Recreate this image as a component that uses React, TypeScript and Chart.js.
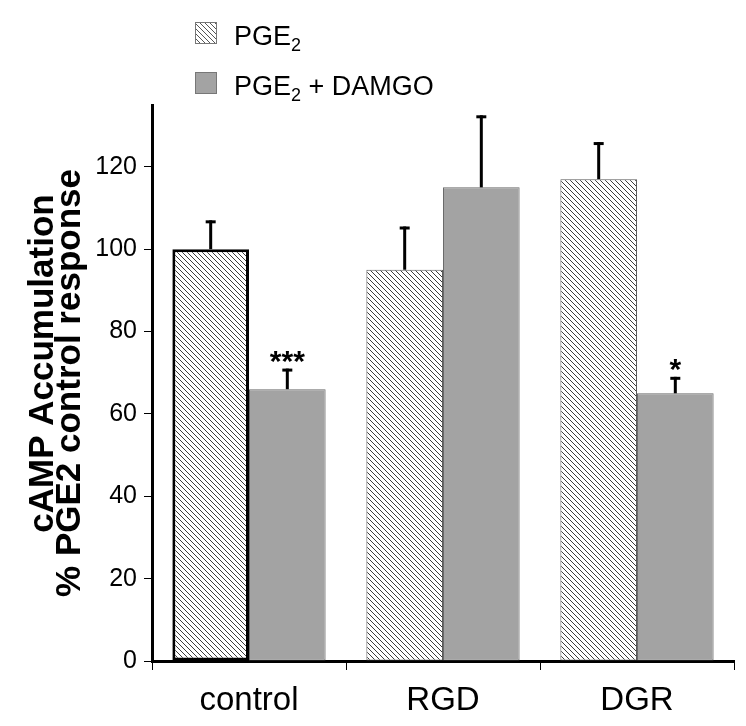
import React, { useEffect, useRef } from "react";
import { Chart, registerables } from "chart.js";

Chart.register(...registerables);

const categories = ["control", "RGD", "DGR"];
const pge2Values = [100, 95, 117];
const pge2Errors = [7, 10.5, 9];
const damgoValues = [66, 115, 65];
const damgoErrors = [5, 17.5, 4];
const significance = ["", "", ""];
const damgoSignificance = ["***", "", "*"];
const yTicks = [0, 20, 40, 60, 80, 100, 120];
const yMax = 135;
const yTitle = ["    cAMP Accumulation", "% PGE2 control response"];

const FONT = "'Liberation Sans', Arial, Helvetica, sans-serif";

function makeHatch(): CanvasPattern | string {
  const s = 5;
  const c = document.createElement("canvas");
  c.width = s;
  c.height = s;
  const ctx = c.getContext("2d");
  if (!ctx) return "#ddd";
  ctx.fillStyle = "#ffffff";
  ctx.fillRect(0, 0, s, s);
  ctx.strokeStyle = "#3c3c3c";
  ctx.lineWidth = 1;
  ctx.beginPath();
  ctx.moveTo(-1, -1);
  ctx.lineTo(s + 1, s + 1);
  ctx.moveTo(-1, s - 1);
  ctx.lineTo(1, s + 1);
  ctx.moveTo(s - 1, -1);
  ctx.lineTo(s + 1, 1);
  ctx.stroke();
  const p = ctx.createPattern(c, "repeat");
  return p || "#ddd";
}

const errorBarPlugin = {
  id: "errorBars",
  afterDatasetsDraw(chart: any) {
    const ctx = chart.ctx as CanvasRenderingContext2D;
    const yScale = chart.scales.y;
    const errs = [pge2Errors, damgoErrors];
    const sigs = [significance, damgoSignificance];
    ctx.save();
    chart.data.datasets.forEach((ds: any, i: number) => {
      const meta = chart.getDatasetMeta(i);
      meta.data.forEach((bar: any, j: number) => {
        const v = ds.data[j] as number;
        const top = yScale.getPixelForValue(v + errs[i][j]);
        const base = yScale.getPixelForValue(v);
        ctx.strokeStyle = "#000";
        ctx.lineWidth = 3;
        ctx.lineCap = "butt";
        ctx.beginPath();
        ctx.moveTo(bar.x, base);
        ctx.lineTo(bar.x, top);
        ctx.stroke();
        ctx.beginPath();
        ctx.moveTo(bar.x - 5, top + 1.5);
        ctx.lineTo(bar.x + 5, top + 1.5);
        ctx.stroke();
        const s = sigs[i][j];
        if (s) {
          ctx.fillStyle = "#000";
          ctx.font = `bold 30px ${FONT}`;
          ctx.textAlign = "center";
          ctx.textBaseline = "alphabetic";
          ctx.fillText(s, bar.x, top + 2);
        }
      });
    });
    ctx.restore();
  },
};

const swatchBase: React.CSSProperties = {
  width: 22,
  height: 22,
  boxSizing: "border-box",
  border: "1px solid #777",
  flex: "0 0 auto",
};

const legendText: React.CSSProperties = {
  marginLeft: 17,
  fontFamily: FONT,
  fontSize: 27,
  lineHeight: "22px",
  color: "#000",
  position: "relative",
  top: 3,
  whiteSpace: "nowrap",
};

const subStyle: React.CSSProperties = { fontSize: 18, lineHeight: 0, verticalAlign: "-6px" };

export default function App() {
  const ref = useRef<HTMLCanvasElement>(null);

  useEffect(() => {
    if (!ref.current) return;
    const hatch = makeHatch();
    const chart = new Chart(ref.current, {
      type: "bar",
      data: {
        labels: categories,
        datasets: [
          {
            label: "PGE2",
            data: pge2Values,
            backgroundColor: hatch as any,
            borderColor: ["#000000", "#5a5a5a", "#5a5a5a"],
            borderWidth: [3, 1, 1],
            borderSkipped: false,
            barPercentage: 1,
            categoryPercentage: 0.79,
          },
          {
            label: "PGE2 + DAMGO",
            data: damgoValues,
            backgroundColor: "#a3a3a3",
            borderColor: "#6a6a6a",
            borderWidth: 1,
            borderSkipped: false,
            barPercentage: 1,
            categoryPercentage: 0.79,
          },
        ],
      },
      options: {
        animation: false,
        responsive: false,
        layout: { padding: { left: 0, right: 12, top: 105, bottom: 0 } },
        plugins: {
          legend: { display: false },
          tooltip: { enabled: false },
        },
        scales: {
          x: {
            offset: true,
            grid: {
              display: true,
              drawOnChartArea: false,
              drawTicks: true,
              tickLength: 9,
              color: "#000",
              lineWidth: 1,
              offset: true,
            },
            border: { display: true, color: "#000", width: 3 },
            ticks: {
              color: "#000",
              font: { family: FONT, size: 33 },
              padding: 11,
              maxRotation: 0,
              autoSkip: false,
            },
            afterFit: (s: any) => {
              s.height = 65;
            },
          },
          y: {
            min: 0,
            max: yMax,
            afterBuildTicks: (s: any) => {
              s.ticks = yTicks.map((v) => ({ value: v }));
            },
            grid: {
              display: true,
              drawOnChartArea: false,
              drawTicks: true,
              tickLength: 8,
              color: "#000",
              lineWidth: 1,
            },
            border: { display: true, color: "#000", width: 3 },
            ticks: {
              color: "#000",
              font: { family: FONT, size: 25 },
              padding: 7,
            },
            title: {
              display: true,
              text: yTitle,
              color: "#000",
              font: { family: FONT, size: 35, weight: "bold", lineHeight: 0.77 },
              padding: { top: 30, bottom: 0 },
            },
            afterFit: (s: any) => {
              s.width = 152;
            },
          },
        },
      },
      plugins: [errorBarPlugin],
    } as any);
    return () => chart.destroy();
  }, []);

  return (
    <div
      style={{
        position: "fixed",
        left: 0,
        top: 0,
        width: 746,
        height: 726,
        background: "#fff",
      }}
    >
      <canvas ref={ref} width={746} height={726} style={{ display: "block" }} />
      <div style={{ position: "absolute", left: 195, top: 22, display: "flex", alignItems: "center", height: 22 }}>
        <div
          style={{
            ...swatchBase,
            background:
              "repeating-linear-gradient(45deg, #ffffff 0px, #ffffff 2.5px, #555 2.5px, #555 3.5px)",
          }}
        />
        <span style={legendText}>
          PGE<sub style={subStyle}>2</sub>
        </span>
      </div>
      <div style={{ position: "absolute", left: 195, top: 72, display: "flex", alignItems: "center", height: 22 }}>
        <div style={{ ...swatchBase, background: "#a3a3a3" }} />
        <span style={legendText}>
          PGE<sub style={subStyle}>2</sub> + DAMGO
        </span>
      </div>
    </div>
  );
}
